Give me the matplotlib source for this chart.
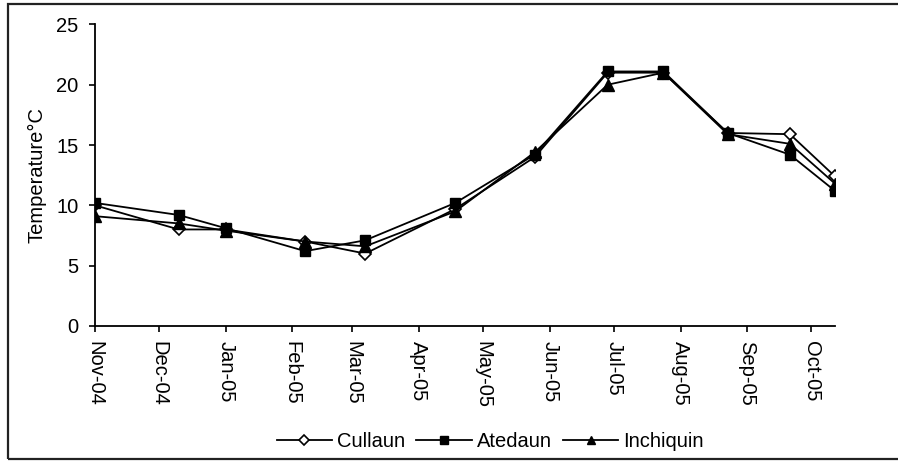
import numpy as np
import matplotlib.pyplot as plt
import matplotlib.dates as mdates
from matplotlib.patches import Rectangle

plt.rcParams['font.family'] = ['Liberation Sans', 'DejaVu Sans']

dates = np.array(['2004-11-01', '2004-12-10', '2005-01-01', '2005-02-07',
                  '2005-03-07', '2005-04-18', '2005-05-25', '2005-06-28',
                  '2005-07-24', '2005-08-23', '2005-09-21', '2005-10-12'],
                 dtype='datetime64[D]')
cullaun = [10.0, 8.0, 8.0, 7.0, 6.0, 9.7, 14.0, 21.0, 21.0, 16.0, 15.9, 12.4]
atedaun = [10.2, 9.2, 8.1, 6.2, 7.1, 10.2, 14.2, 21.1, 21.1, 16.0, 14.2, 11.2]
inchiquin = [9.1, 8.5, 7.9, 7.0, 6.6, 9.5, 14.4, 20.0, 21.0, 15.9, 15.1, 11.8]
month_ticks = np.arange('2004-11', '2005-11', dtype='datetime64[M]').astype('datetime64[D]')

fig = plt.figure(figsize=(8.98, 4.61), dpi=100)
ax = fig.add_axes([0.1058, 0.293, 0.824, 0.654])

lw = 1.3
ax.plot(dates, cullaun, color='black', lw=lw, marker='D', ms=6.5,
        mfc='white', mec='black', mew=1.2, label='Cullaun')
ax.plot(dates, atedaun, color='black', lw=lw, marker='s', ms=7.5,
        mfc='black', mec='black', label='Atedaun')
ax.plot(dates, inchiquin, color='black', lw=lw, marker='^', ms=8.5,
        mfc='black', mec='black', label='Inchiquin')

ax.set_xlim(dates[0], dates[-1])
ax.set_ylim(0, 25)
ax.set_yticks([0, 5, 10, 15, 20, 25])
ax.set_xticks(month_ticks)
ax.xaxis.set_major_formatter(mdates.DateFormatter('%b-%y'))
for lab in ax.get_xticklabels():
    lab.set_rotation(-90)
ax.tick_params(axis='both', direction='out', length=4.3, width=1.2,
               labelsize=14.5, colors='black')
ax.tick_params(axis='y', pad=7.5)
ax.tick_params(axis='x', pad=6.5)
for s in ['top', 'right']:
    ax.spines[s].set_visible(False)
for s in ['left', 'bottom']:
    ax.spines[s].set_linewidth(1.3)
ax.set_ylabel('Temperature°C', fontsize=14.5, labelpad=7)

fig.legend(loc='center', bbox_to_anchor=(0.546, 0.042), ncol=3, frameon=False,
           fontsize=14.5, handlelength=2.75, handletextpad=0.25, columnspacing=0.55,
           markerscale=0.75)

fig.patches.append(Rectangle((8 / 898, 2 / 461), 1.0, 455 / 461,
                             transform=fig.transFigure, fill=False,
                             ec='#222222', lw=1.6))

fig.savefig('out.png', dpi=100)
